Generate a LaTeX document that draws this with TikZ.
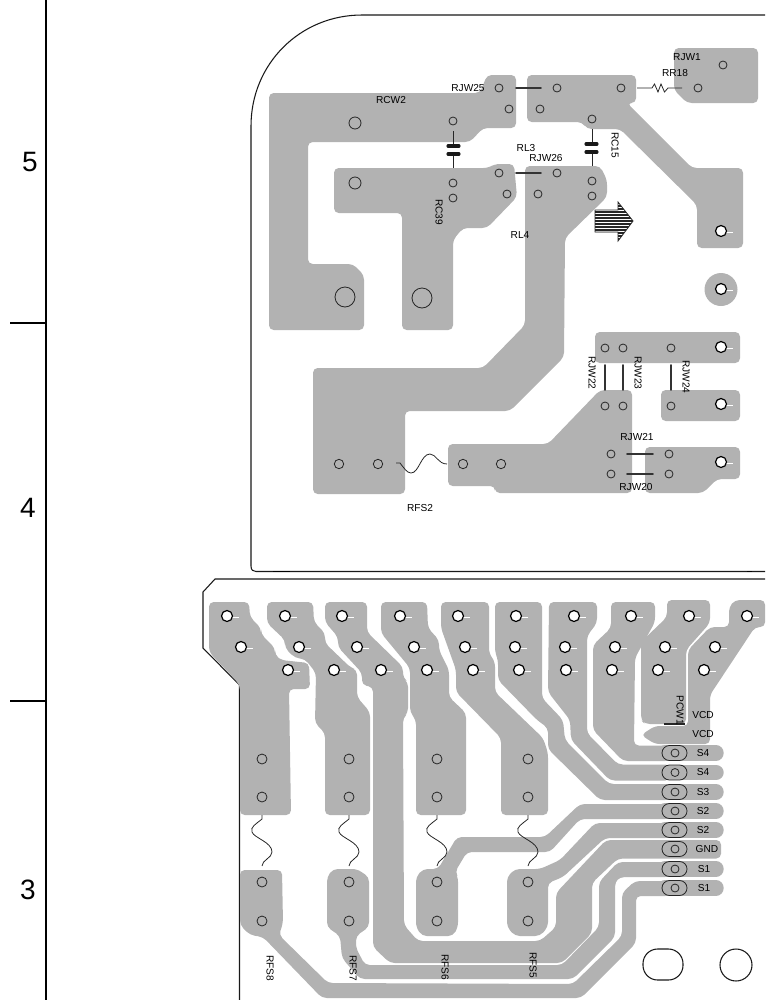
\documentclass[tikz,border=0pt]{standalone}
\usepackage{fontspec}
\setmainfont{Liberation Sans}
\definecolor{copper}{HTML}{B2B2B2}
\tikzset{
	trace/.style={fill=copper, draw=none, rounded corners=3.5pt},
	pill/.style={draw=copper, line width=11.6pt, line cap=round},
	outline/.style={draw=black!90, line width=0.8pt},
	via/.style={draw=black!85, line width=0.6pt},
	hole/.style={draw=black, fill=white, line width=0.9pt},
	stub/.style={draw=white, line width=0.7pt},
	part/.style={draw=black!85, line width=0.6pt},
	jumper/.style={draw=black!80, line width=1.4pt, line cap=round},
	plate/.style={draw=black!90, line width=2.3pt, line cap=round},
	lbl/.style={font=\fontsize{7.6}{8}\selectfont, inner sep=0pt},
	lblv/.style={lbl, rotate=-90},
	sheetno/.style={font=\fontsize{21}{24}\selectfont, inner sep=0pt}
}
\begin{document}
\begin{tikzpicture}[x=0.75pt, y=-0.75pt]
	\useasboundingbox (0,0) rectangle (765,1000);
	% sheet scale
	\draw[line width=1.5pt] (46,0) -- (46,1000);
	\draw[line width=1.2pt] (10,323) -- (46,323);
	\draw[line width=1.2pt] (10,701) -- (46,701);
	\node[sheetno] (five) at (30,162) {5};
	\node[sheetno] (four) at (28,508) {4};
	\node[sheetno] (three) at (28,890) {3};
	% board outlines
	\draw[outline] (765,15) -- (362,15) .. controls (300,15) and (251,64) .. (251,126) -- (251,566) .. controls (251,570) and (253,571.5) .. (256,571.5) -- (765,571.5);
	\draw[outline] (765,579) -- (215,579) -- (203,592) -- (203,648) -- (239.5,685) -- (239.5,1000);
	\draw[line width=1.2pt] (273,571.5) -- (290,571.5);
	\draw[line width=1.2pt] (747,571.5) -- (752,571.5);
	% upper copper
	\fill[trace] (269,93) -- (480,93) -- (487,75) -- (516,75) -- (516,128) -- (483,128) -- (470,142) -- (308,142) -- (308,264) -- (353,264) -- (364,275) -- (364,330) -- (269,330) -- cycle;
	\fill[trace] (334,168) -- (488,168) -- (495,164) -- (514,164) -- (517,197) -- (487,228) -- (463,228) -- (453,240) -- (453,330) -- (402,330) -- (402,213) -- (334,213) -- cycle;
	\fill[trace] (525,166) -- (600,166) -- (607,180) -- (607,197) -- (565,238) -- (564,357) -- (510,411) -- (405,411) -- (405,494) -- (313,494) -- (313,368) -- (483,368) -- (525,325) -- cycle;
	\fill[trace] (527,75) -- (636,75) -- (636,103) -- (627,103) -- (692,168) -- (743,168) -- (743,248) -- (697,248) -- (697,205) -- (620,129) -- (587,129) -- (582,122) -- (527,122) -- cycle;
	\fill[trace] (674,48) -- (758,48) -- (758,103) -- (687,103) -- (674,90) -- cycle;
	\fill[copper] (721,289.5) circle (16.5);
	\fill[trace] (595,332) -- (740,332) -- (740,363) -- (595,363) -- cycle;
	\fill[trace] (661,390) -- (740,390) -- (740,421) -- (661,421) -- cycle;
	\fill[trace] (645,447) -- (740,447) -- (740,479) -- (717,479) -- (703,493) -- (645,493) -- cycle;
	\fill[trace] (600,390) -- (632,390) -- (632,493) -- (495,493) -- (495,486) -- (448,486) -- (448,444) -- (548,444) -- cycle;
	% lower copper
	\fill[trace] (209,602) -- (249,602) -- (250,617) -- (261,628) -- (261,634) -- (275,648) -- (275,655) -- (281,660) -- (309,663) -- (310,689) -- (289,689) -- (291,815) -- (240,815) -- (240,685) -- (209,652) -- cycle;
	\fill[trace] (267,602) -- (313,602) -- (314,622) -- (325,633) -- (325,643) -- (350,667) -- (357,670) -- (357,697) -- (370,712) -- (370,815) -- (325,815) -- (325,733) -- (315,723) -- (316,673) -- (305,659) -- (295,658) -- (285,648) -- (285,640) -- (267,623) -- cycle;
	\fill[trace] (325,602) -- (367,602) -- (367,632) -- (403,667) -- (403,678) -- (408,682) -- (408,713) -- (403,718) -- (404,925) -- (418,941) -- (540,941) -- (556,927) -- (556,893) -- (606,840) -- (721,840) -- (721,858.5) -- (618,858.5) -- (592,883) -- (592,933) -- (562,963) -- (390,963) -- (373,947) -- (373,687) -- (362,685) -- (362,673) -- (338,647) -- (338,637) -- (325,622) -- cycle;
	\fill[trace] (381,602) -- (427,602) -- (428,628) -- (439,640) -- (439,650) -- (449,670) -- (449,697) -- (466,713) -- (466,815) -- (416,815) -- (416,720) -- (410,712) -- (410,668) -- (381,633) -- cycle;
	\fill[trace] (441,602) -- (489,602) -- (489,653) -- (495,662) -- (495,692) -- (543,738) -- (548,753) -- (548,815) -- (501,815) -- (501,738) -- (456,692) -- (456,670) -- (441,628) -- cycle;
	\fill[trace] (495,602) -- (542,602) -- (542,698) -- (563,720) -- (565,740) -- (609,784) -- (670,784) -- (670,800) -- (600,800) -- (548,749) -- (548,728) -- (537,720) -- (498,680) -- (498,660) -- (495,652) -- cycle;
	\fill[trace] (549,602) -- (597,602) -- (597,623) -- (587,636) -- (587,733) -- (618,764.5) -- (670,764.5) -- (670,780.5) -- (610,780.5) -- (571,740) -- (570,720) -- (548,692) -- cycle;
	\fill[trace] (611,602) -- (655,602) -- (655,622) -- (635,658) -- (634,745.5) -- (670,745.5) -- (670,761) -- (623,761) -- (593,730) -- (593,645) -- (611,628) -- cycle;
	\fill[trace] (667,600) -- (710,600) -- (710,623) -- (686,650) -- (686,724) -- (645,724) -- (641,720) -- (641,642) -- (667,617) -- cycle;
	\fill[trace] (729,607) -- (735,600) -- (765,600) -- (765,627) -- (755,627) -- (710,695) -- (710,744) -- (655,744) -- (641,735) -- (655,726) -- (688,726) -- (688,650) -- (710,627) -- (729,627) -- cycle;
	\fill[trace] (240,870) -- (282,870) -- (283,923) -- (279,935) -- (328,983) -- (573,984) -- (622,936) -- (622,893) -- (635,881) -- (670,881) -- (670,896) -- (636,896) -- (636,943) -- (581,998) -- (322,998) -- (263,937) -- (250,935) -- (240,925) -- cycle;
	\fill[trace] (333,869) -- (357,869) -- (369,877) -- (369,927) -- (356,936) -- (356,948) -- (365,965) -- (562,965) -- (599,927) -- (599,882) -- (618,862) -- (670,862) -- (670,877) -- (620,877) -- (615,882) -- (615,937) -- (573,979) -- (360,979) -- (342,958) -- (340,936) -- (327,927) -- (327,877) -- cycle;
	\fill[trace] (423,869) -- (438,869) -- (457,837) -- (545,837) -- (580,804) -- (670,804) -- (670,819) -- (580,819) -- (550,852) -- (467,852) -- (455,872) -- (458,877) -- (458,927) -- (453,936) -- (422,936) -- (416,927) -- (416,877) -- cycle;
	\fill[trace] (507,877) -- (515,869) -- (540,869) -- (560,860) -- (595,823) -- (670,823) -- (670,838) -- (605,838) -- (563,877) -- (548,883) -- (548,927) -- (540,936) -- (515,936) -- (507,927) -- cycle;
	\foreach \y in {753,772.5,792,811,830,869,888}
		\draw[pill] (665,\y) -- (716,\y);
	% small vias, upper board
	\foreach \x/\y in {499/88,557/88,621/88,698/88,723/65,509/109,540/109,453/121,592/119,499/173,557/173,592/181,592/196,507/194,538/194,453/183,453/198,605/348,623/348,671/348,605/406,623/406,671/406,611/454,669/454,611/474,669/474}
		\draw[via] (\x,\y) circle (4);
	\foreach \x/\y in {339/464,378/464,463/464,501/464}
		\draw[via] (\x,\y) circle (4.7);
	\draw[via] (355,123) circle (6);
	\draw[via] (355,183) circle (6);
	\draw[via] (345,297) circle (10);
	\draw[via] (422,298) circle (10);
	% mounting holes
	\foreach \x/\y in {721/231,721/289,721/347,721/404,721/462,
		227/616,241/647,288/670,285/616,299/647,334/670,342/616,357/647,381/670,400/616,414/647,427/670,458/616,465/647,473/670,
		516/616,515/647,519/670,574/616,565/647,566/670,631/616,615/647,612/670,689/616,665/647,658/670,747/616,715/647,704/670}
	{
		\draw[stub] (\x+5,\y+1) -- (\x+12,\y+1);
		\draw[hole] (\x,\y) circle (5.5);
	}
	% small vias and fuses, lower board
	\foreach \x in {262,349,437,528}
	{
		\foreach \y in {759,797,882,921}
			\draw[via] (\x,\y) circle (5);
		\draw[part] (\x,815) -- (\x,819) .. controls (\x-6,824) and (\x-12,827) .. (\x-10,832) .. controls (\x-8,838) and (\x+10,842) .. (\x+10,852) .. controls (\x+10,858) and (\x,860) .. (\x,866);
	}
	% connector ovals
	\foreach \y in {753,772.5,792,811,830,849,869,888}
	{
		\draw[via, rounded corners=5.6pt] (662,\y-7.5) rectangle (687,\y+7.5);
		\draw[via] (675,\y) circle (4);
	}
	\draw[outline, rounded corners=11pt] (643,949) rectangle (683,980);
	\draw[outline] (736,965) circle (16);
	% parts
	\draw[jumper] (516,88) -- (541,88);
	\draw[jumper] (516,173) -- (541,173);
	\draw[jumper] (605,365) -- (605,390);
	\draw[jumper] (623,365) -- (623,390);
	\draw[jumper] (671,365) -- (671,390);
	\draw[jumper] (627,454) -- (653,454);
	\draw[jumper] (627,474) -- (653,474);
	\draw[part] (453,131) -- (453,146);
	\draw[part] (453,154) -- (453,168);
	\draw[plate] (448,146) -- (459,146);
	\draw[plate] (448,154) -- (459,154);
	\draw[part] (592,129) -- (592,144);
	\draw[part] (592,152) -- (592,166);
	\draw[plate] (586,144) -- (597,144);
	\draw[plate] (586,152) -- (597,152);
	\draw[part] (637,88) -- (652,88) -- (654.5,84) -- (658,92) -- (661,84) -- (664.5,92) -- (668,88) -- (682,88);
	\draw[part] (396,463) -- (400,463) .. controls (404,468) and (407,473) .. (411,473) .. controls (419,473) and (421,454) .. (430,454) .. controls (436,454) and (438,464) .. (447,464);
	\draw[line width=1.7pt, draw=black!85] (664,724) -- (685,724);
	% direction arrow
	\begin{scope}
		\clip (595,210) -- (618,210) -- (618,202) -- (633,221) -- (618,241) -- (618,232) -- (595,232) -- cycle;
		\foreach \y in {202,203.5,...,242}
			\draw[black!85, line width=0.4pt] (590,\y) -- (635,\y);
	\end{scope}
	\draw[part] (595,210) -- (618,210) -- (618,202) -- (633,221) -- (618,241) -- (618,232) -- (595,232) -- cycle;
	% labels
	\node[lbl] (rcw2) at (391,100) {RCW2};
	\node[lbl] (rjw25) at (468,88) {RJW25};
	\node[lbl] (rjw1) at (687,57) {RJW1};
	\node[lbl] (rr18) at (675,73) {RR18};
	\node[lblv] (rc15) at (615,145) {RC15};
	\node[lbl] (rl3) at (526,148) {RL3};
	\node[lbl] (rjw26) at (546,158) {RJW26};
	\node[lbl] (rl4) at (520,235) {RL4};
	\node[lblv] (rc39) at (439,212) {RC39};
	\node[lbl] (rfs2) at (420,508) {RFS2};
	\node[lblv] (rjw22) at (592,373) {RJW22};
	\node[lblv] (rjw23) at (638,373) {RJW23};
	\node[lblv] (rjw24) at (686,377) {RJW24};
	\node[lbl] (rjw21) at (637,437) {RJW21};
	\node[lbl] (rjw20) at (636,487) {RJW20};
	\node[lblv] (pcw1) at (680,710) {PCW1};
	\node[lbl] (vcda) at (703,715) {VCD};
	\node[lbl] (vcdb) at (703,734) {VCD};
	\node[lbl] (sfoura) at (703,753) {S4};
	\node[lbl] (sfourb) at (703,772.5) {S4};
	\node[lbl] (sthree) at (703,792) {S3};
	\node[lbl] (stwoa) at (703,811) {S2};
	\node[lbl] (stwob) at (703,830) {S2};
	\node[lbl] (gnd) at (707,849) {GND};
	\node[lbl] (sonea) at (704,869) {S1};
	\node[lbl] (soneb) at (704,888) {S1};
	\node[lblv] (rfs8) at (270,968) {RFS8};
	\node[lblv] (rfs7) at (353,968) {RFS7};
	\node[lblv] (rfs6) at (445,967) {RFS6};
	\node[lblv] (rfs5) at (533,965) {RFS5};
\end{tikzpicture}
\end{document}
